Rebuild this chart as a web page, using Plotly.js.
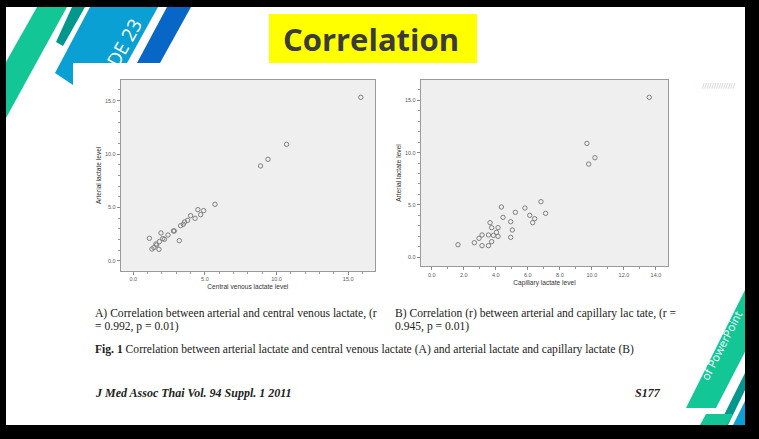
<!DOCTYPE html>
<html><head><meta charset="utf-8">
<script src="https://cdn.plot.ly/plotly-3.0.1.min.js"></script>
<style>html,body{margin:0;padding:0;background:#fff}#chart{width:759px;height:439px}</style>
</head><body><div id="chart"></div>
<script>
// ---- data ----
const centralVenous = [15.88, 10.70, 9.40, 8.88, 5.70, 4.51, 4.91, 4.70, 4.00, 4.31, 3.79, 3.58, 3.49, 3.30, 2.86, 2.80, 2.42, 1.93, 1.12, 2.05, 2.17, 3.21, 1.82, 1.63, 1.58, 1.44, 1.30, 1.79];
const arterialA     = [15.31, 10.91, 9.51, 8.89, 5.30, 4.80, 4.71, 4.33, 4.24, 3.99, 3.80, 3.65, 3.43, 3.30, 2.81, 2.81, 2.43, 2.62, 2.12, 2.09, 2.03, 1.90, 1.81, 1.50, 1.59, 1.25, 1.12, 1.09];
const capillary     = [13.58, 9.69, 10.19, 9.80, 6.82, 5.82, 4.35, 5.22, 7.11, 4.45, 6.12, 6.43, 6.30, 3.64, 4.93, 3.74, 4.14, 4.04, 5.03, 3.14, 3.54, 3.85, 4.14, 2.95, 4.93, 2.66, 3.74, 3.14, 3.54, 1.64];
const arterialB     = [15.29, 10.88, 9.51, 8.90, 5.30, 4.69, 4.79, 4.28, 4.18, 3.80, 3.99, 3.67, 3.29, 3.29, 3.38, 2.81, 2.81, 2.36, 2.59, 2.11, 2.11, 2.07, 1.98, 1.79, 1.88, 1.37, 1.47, 1.09, 1.09, 1.18];

const tickValsA = [0, 5, 10, 15];
const tickTextA = ['0.0', '5.0', '10.0', '15.0'];
const tickValsB = [0, 2, 4, 6, 8, 10, 12, 14];
const tickTextB = ['0.0', '2.0', '4.0', '6.0', '8.0', '10.0', '12.0', '14.0'];
const tickValsY = [0, 5, 10, 15];
const tickTextY = ['0.0', '5.0', '10.0', '15.0'];

const titleXA = 'Central venous lactate level';
const titleXB = 'Capillary lactate level';
const titleY  = 'Arterial lactate level';

const slideTitle = 'Correlation';
const captionA1 = 'A) Correlation between arterial and central venous lactate, (r';
const captionA2 = '= 0.992, p = 0.01)';
const captionB1 = 'B) Correlation (r) between arterial and capillary lac tate, (r =';
const captionB2 = '0.945, p = 0.01)';
const figCaption = '<b>Fig. 1</b> Correlation between arterial lactate and central venous lactate (A) and arterial lactate and capillary lactate (B)';
const journal = '<b><i>J Med Assoc Thai Vol. 94 Suppl. 1 2011</i></b>';
const pageNo = '<b><i>S177</i></b>';

// ---- layout helpers ----
const W = 759, H = 439;
const px = x => x / W;
const py = y => 1 - y / H;
function poly(pts, color) {
  return {type: 'path', xref: 'paper', yref: 'paper', layer: 'below',
    path: 'M' + pts.map(p => px(p[0]).toFixed(5) + ',' + py(p[1]).toFixed(5)).join('L') + 'Z',
    fillcolor: color, line: {width: 0}};
}
function rect(x0, y0, x1, y1, color) {
  return {type: 'rect', xref: 'paper', yref: 'paper', layer: 'below',
    x0: px(x0), x1: px(x1), y0: py(y1), y1: py(y0), fillcolor: color, line: {width: 0}};
}

const tickFont = {family: 'Liberation Sans, Arial, sans-serif', size: 5.5, color: '#5a5a5a'};
const titleFont = {family: 'Liberation Sans, Arial, sans-serif', size: 6.6, color: '#333'};

function axis(domain, range, vals, text, title, anchor, standoff) {
  return {
    domain: domain, range: range, anchor: anchor,
    tickmode: 'array', tickvals: vals, ticktext: text,
    ticks: 'outside', ticklen: 3, tickwidth: 1, tickcolor: '#8a8a8a',
    tickfont: tickFont,
    minor: {tickmode: 'linear', tick0: 0, dtick: 1, ticks: 'outside', ticklen: 2, tickwidth: 1, tickcolor: '#9a9a9a', showgrid: false},
    showgrid: false, zeroline: false, showline: true, linecolor: '#9a9a9a', linewidth: 1, mirror: true,
    title: {text: title, font: titleFont, standoff: standoff},
    automargin: true, fixedrange: true
  };
}

const markerStyle = {symbol: 'circle-open', size: 4.4, color: '#808080', line: {width: 1, color: '#808080'}};

const traces = [
  {type: 'scatter', mode: 'markers', x: centralVenous, y: arterialA, xaxis: 'x', yaxis: 'y', marker: markerStyle, hoverinfo: 'skip', showlegend: false},
  {type: 'scatter', mode: 'markers', x: capillary, y: arterialB, xaxis: 'x2', yaxis: 'y2', marker: markerStyle, hoverinfo: 'skip', showlegend: false}
];

const green = '#12c795', teal = '#00978d', blue = '#0aa0d4', dblue = '#0866c6';

const shapes = [
  // top-left stripes
  poly([[37,7],[67,7],[6,118],[6,62]], green),
  poly([[72,7],[85,7],[63,46],[56,42]], teal),
  poly([[90,7],[158,7],[127,63],[73,63],[73,85],[55,73]], blue),
  poly([[167,7],[191,7],[160,63],[137,63]], dblue),
  // bottom-right stripes
  poly([[686,408],[745,290],[747,290],[747,348],[716,408]], green),
  poly([[719,425],[747,369],[747,386],[728,425]], teal),
  poly([[733,425],[747,397],[747,425]], blue),
  poly([[700,425],[706,414],[733,414],[727,425]], green),
  // yellow title box
  rect(269, 14, 477, 63, '#ffff00'),
  // black frame
  rect(0, 0, 759, 7, '#000'),
  rect(0, 0, 6, 439, '#000'),
  rect(745, 0, 759, 439, '#000'),
  rect(0, 425, 759, 439, '#000')
];

function ann(text, x, y, opts) {
  return Object.assign({text: text, x: px(x), y: py(y), xref: 'paper', yref: 'paper', showarrow: false,
    xanchor: 'left', yanchor: 'middle'}, opts || {});
}
const serif = {family: 'Liberation Serif, Times New Roman, serif', size: 11.6, color: '#222'};
const serifJ = {family: 'Liberation Serif, Times New Roman, serif', size: 12, color: '#222'};

const annotations = [
  ann('<b>' + slideTitle + '</b>', 371, 39, {xanchor: 'center', font: {family: 'Open Sans, sans-serif', size: 31, color: '#3b3b3b'}}),
  ann('DE 23', 124, 43, {xanchor: 'center', textangle: -61, font: {family: 'Open Sans, sans-serif', size: 19, color: '#ffffff'}}),
  ann('of PowerPoint', 721, 345, {xanchor: 'center', textangle: -63, font: {family: 'Open Sans, sans-serif', size: 11.5, color: '#ffffff'}}),
  ann('//////////////', 719, 86, {xanchor: 'center', font: {family: 'DejaVu Sans', size: 7, color: '#c4c4c4'}}),
  ann(captionA1, 93, 313, {font: serif}),
  ann(captionA2, 93, 326, {font: serif}),
  ann(captionB1, 393, 313, {font: serif}),
  ann(captionB2, 393, 326, {font: serif}),
  ann(figCaption, 93, 349, {font: serif}),
  ann(journal, 93, 393, {font: serifJ}),
  ann(pageNo, 663, 393, {xanchor: 'right', font: serifJ})
];

const layout = {
  width: W, height: H,
  margin: {l: 0, r: 0, t: 0, b: 0, pad: 0},
  paper_bgcolor: '#ffffff', plot_bgcolor: '#efefef',
  showlegend: false,
  xaxis:  axis([px(120.7), px(375)], [-0.88, 16.87], tickValsA, tickTextA, titleXA, 'y', 3),
  yaxis:  axis([py(270.7), py(80)], [-0.91, 16.93], tickValsY, tickTextY, titleY, 'x', 2),
  xaxis2: axis([px(420.7), px(668.3)], [-0.69, 14.77], tickValsB, tickTextB, titleXB, 'y2', 3),
  yaxis2: axis([py(266), py(80)], [-0.86, 16.95], tickValsY, tickTextY, titleY, 'x2', 2),
  shapes: shapes,
  annotations: annotations
};

Plotly.newPlot('chart', traces, layout, {staticPlot: true, displayModeBar: false});
</script>
</body></html>
